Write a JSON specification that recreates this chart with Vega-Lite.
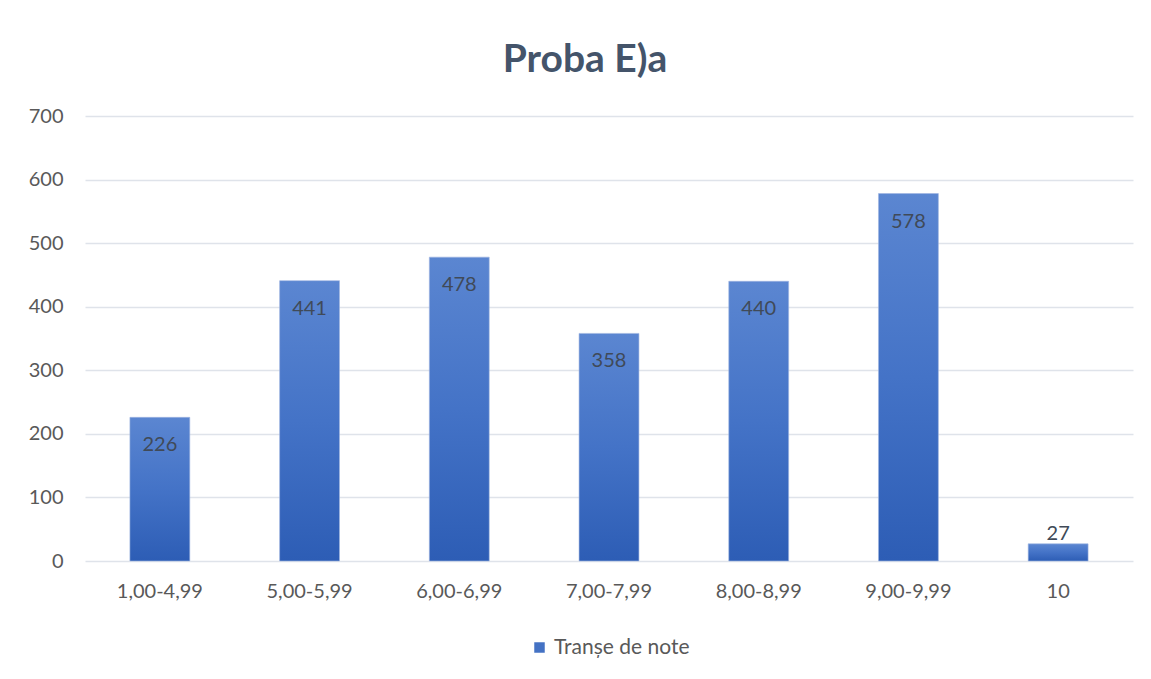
{
  "$schema": "https://vega.github.io/schema/vega-lite/v6.json",
  "width": 1048,
  "height": 445,
  "autosize": "none",
  "padding": {"left": 85, "top": 116, "right": 18, "bottom": 118},
  "background": "white",
  "config": {
    "font": "Lato",
    "view": {"stroke": null},
    "legend": {"layout": {"bottom": {"anchor": "middle"}}}
  },
  "title": {
    "text": "Proba E)a",
    "font": "Lato",
    "fontSize": 39,
    "fontWeight": "bold",
    "color": "#44546a",
    "anchor": "middle",
    "baseline": "alphabetic",
    "offset": -5,
    "dx": -24
  },
  "data": {
    "values": [
      {"tranche": "1,00-4,99", "value": 226},
      {"tranche": "5,00-5,99", "value": 441},
      {"tranche": "6,00-6,99", "value": 478},
      {"tranche": "7,00-7,99", "value": 358},
      {"tranche": "8,00-8,99", "value": 440},
      {"tranche": "9,00-9,99", "value": 578},
      {"tranche": "10", "value": 27}
    ]
  },
  "encoding": {
    "x": {
      "field": "tranche",
      "type": "nominal",
      "sort": null,
      "scale": {"paddingInner": 0.6, "paddingOuter": 0.3},
      "axis": {
        "title": null,
        "labelAngle": 0,
        "labelFontSize": 20,
        "labelColor": "#595959",
        "labelPadding": 20,
        "ticks": false,
        "domain": false,
        "grid": false
      }
    },
    "y": {
      "field": "value",
      "type": "quantitative",
      "scale": {"domain": [0, 700], "nice": false},
      "axis": {
        "title": null,
        "values": [0, 100, 200, 300, 400, 500, 600, 700],
        "labelFontSize": 20,
        "labelColor": "#595959",
        "labelPadding": 22,
        "ticks": false,
        "domain": false,
        "gridColor": "#dfe3ea",
        "gridWidth": 1.5
      }
    }
  },
  "layer": [
    {
      "mark": {
        "type": "bar",
        "color": {
          "gradient": "linear",
          "x1": 0, "y1": 0, "x2": 0, "y2": 1,
          "stops": [
            {"offset": 0, "color": "#5b86d1"},
            {"offset": 0.5, "color": "#4473c7"},
            {"offset": 1, "color": "#2d5db5"}
          ]
        },
        "stroke": "#9fb6e0",
        "strokeWidth": 0.6
      }
    },
    {
      "mark": {"type": "bar", "opacity": 0},
      "encoding": {
        "color": {
          "datum": "Tranșe de note",
          "scale": {"range": ["#4472c4"]},
          "legend": {
            "title": null,
            "orient": "bottom",
            "direction": "horizontal",
            "symbolType": "square",
            "symbolSize": 110,
            "symbolOpacity": 1,
            "symbolStrokeWidth": 0,
            "labelFontSize": 21,
            "labelColor": "#595959",
            "labelOffset": 4,
            "offset": 36
          }
        }
      }
    },
    {
      "transform": [{"filter": "datum.value >= 100"}],
      "mark": {"type": "text", "baseline": "middle", "dy": 28, "fontSize": 20, "color": "#404a58"},
      "encoding": {"text": {"field": "value", "type": "quantitative"}}
    },
    {
      "transform": [{"filter": "datum.value < 100"}],
      "mark": {"type": "text", "baseline": "middle", "dy": -10, "fontSize": 20, "color": "#404a58"},
      "encoding": {"text": {"field": "value", "type": "quantitative"}}
    }
  ]
}
